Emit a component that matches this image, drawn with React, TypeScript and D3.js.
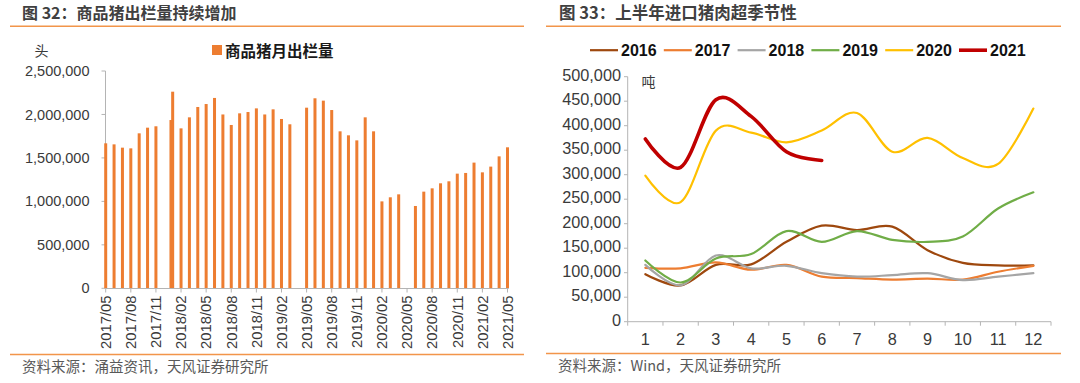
import React from "react";
import * as d3 from "d3";

// ---------- Left chart data ----------
const months: string[] = [
  "2017/05","2017/06","2017/07","2017/08","2017/09","2017/10","2017/11","2017/12",
  "2018/01","2018/02","2018/03","2018/04","2018/05","2018/06","2018/07","2018/08",
  "2018/09","2018/10","2018/11","2018/12","2019/01","2019/02","2019/03","2019/04",
  "2019/05","2019/06","2019/07","2019/08","2019/09","2019/10","2019/11","2019/12",
  "2020/01","2020/02","2020/03","2020/04","2020/05","2020/06","2020/07","2020/08",
  "2020/09","2020/10","2020/11","2020/12","2021/01","2021/02","2021/03","2021/04",
  "2021/05",
];
const hogSales: (number | null)[] = [
  1668000, 1656000, 1618000, 1610000, 1783000, 1848000, 1864000, null,
  2262000, 1840000, 1967000, 2086000, 2120000, 2190000, 2000000, 1879000,
  2013000, 2028000, 2070000, 2000000, 2059000, 1948000, 1887000, null,
  2078000, 2186000, 2159000, 2051000, 1806000, 1760000, 1702000, 1967000,
  1806000, 1000000, 1047000, 1081000, null, 947000, 1112000, 1150000,
  1208000, 1231000, 1319000, 1327000, 1446000, 1334000, 1400000, 1518000,
  1622000,
];
// second (partly hidden) bar drawn at 2018/01
const extraBarMonth = "2018/01";
const extraBarValue = 1936000;
const leftYTicks = [0, 500000, 1000000, 1500000, 2000000, 2500000];
const leftXTicks = [
  "2017/05","2017/08","2017/11","2018/02","2018/05","2018/08","2018/11",
  "2019/02","2019/05","2019/08","2019/11","2020/02","2020/05","2020/08",
  "2020/11","2021/02","2021/05",
];

// ---------- Right chart data ----------
const monthNums = ["1","2","3","4","5","6","7","8","9","10","11","12"];
const s2016 = [97000, 74000, 116000, 117000, 163000, 196000, 187000, 194000, 146000, 120000, 115000, 115000];
const s2017 = [110000, 109000, 121000, 106000, 116000, 92000, 89000, 86000, 88000, 86000, 102000, 114000];
const s2018 = [116000, 74000, 135000, 109000, 114000, 99000, 92000, 95000, 99000, 85000, 92000, 99000];
const s2019 = [125000, 80000, 129000, 138000, 185000, 163000, 185000, 167000, 163000, 174000, 231000, 264000];
const s2020 = [298000, 244000, 390000, 386000, 366000, 390000, 426000, 347000, 375000, 334000, 322000, 435000];
const s2021 = [373000, 315000, 453000, 419000, 347000, 329000];
const seriesNames = ["2016", "2017", "2018", "2019", "2020", "2021"];
const seriesColors = ["#9E480E", "#ED7D31", "#A5A5A5", "#70AD47", "#FFC000", "#C00000"];
const seriesWidths = [2.2, 2.2, 2.2, 2.2, 2.2, 3.6];
const rightYTicks = [0, 50000, 100000, 150000, 200000, 250000, 300000, 350000, 400000, 450000, 500000];

const NUM_FONT = "'Liberation Sans', Arial, sans-serif";
const CJK_FONT = "'Noto Sans CJK SC', 'Noto Sans', sans-serif";
const AXIS = "#B4B4B4";
const TXT = "#3a3a3a";
const ORANGE_LINE = "#F2954A";

export default function App() {
  const fmt = d3.format(",");

  // left scales
  const xL = d3.scalePoint<string>().domain(months).range([105.7, 507.5]);
  const yL = d3.scaleLinear().domain([0, 2500000]).range([288.3, 71]);
  const barW = 3;

  // right scales
  const xR = d3.scaleBand<string>().domain(monthNums).range([627.7, 1051]).paddingInner(0);
  const yR = d3.scaleLinear().domain([0, 500000]).range([321.7, 76.7]);
  const allSeries = [s2016, s2017, s2018, s2019, s2020, s2021];
  const line = d3
    .line<number>()
    .x((_, i) => (xR(monthNums[i]) as number) + xR.bandwidth() / 2)
    .y((d) => yR(d))
    .curve(d3.curveCardinal.tension(0));

  return (
    <svg
      width={1080}
      height={383}
      style={{ position: "absolute", left: 0, top: 0, background: "#fff" }}
    >
      {/* ===== LEFT PANEL ===== */}
      <text x={22} y={19} fontFamily={CJK_FONT} fontWeight={700} fontSize={16} fill="#404040">
        图 32：商品猪出栏量持续增加
      </text>
      <line x1={10} x2={524} y1={26.3} y2={26.3} stroke={ORANGE_LINE} strokeWidth={1.5} />

      <text x={34.5} y={55.5} fontFamily={CJK_FONT} fontSize={14} fill={TXT}>头</text>
      <rect x={212} y={45} width={10} height={10} fill="#ED7D31" />
      <text x={225} y={56.5} fontFamily={CJK_FONT} fontWeight={700} fontSize={15.5} fill="#1a1a1a">
        商品猪月出栏量
      </text>

      {/* y axis */}
      <line x1={105.5} x2={105.5} y1={yL(2500000)} y2={yL(0)} stroke={AXIS} />
      {leftYTicks.map((t) => (
        <g key={t}>
          <line x1={101.5} x2={105.5} y1={yL(t)} y2={yL(t)} stroke={AXIS} />
          <text
            x={89.5}
            y={yL(t)}
            dy="0.35em"
            textAnchor="end"
            fontFamily={NUM_FONT}
            fontSize={14.5}
            fill={TXT}
          >
            {fmt(t)}
          </text>
        </g>
      ))}

      {/* bars */}
      <rect
        x={(xL(extraBarMonth) as number) - barW / 2 - 1.7}
        y={yL(extraBarValue)}
        width={barW}
        height={yL(0) - yL(extraBarValue)}
        fill="#ED7D31"
      />
      {months.map((m, i) => {
        const v = hogSales[i];
        if (v == null) return null;
        return (
          <rect
            key={m}
            x={(xL(m) as number) - barW / 2}
            y={yL(v)}
            width={barW}
            height={yL(0) - yL(v)}
            fill="#ED7D31"
          />
        );
      })}

      {/* x axis */}
      <line x1={105.5} x2={508.5} y1={288.5} y2={288.5} stroke={AXIS} />
      {leftXTicks.map((m) => {
        const x = xL(m) as number;
        return (
          <g key={m}>
            <line x1={x} x2={x} y1={288.5} y2={292.5} stroke={AXIS} />
            <text
              transform={`translate(${x},295.5) rotate(-90)`}
              dy="0.36em"
              textAnchor="end"
              fontFamily={NUM_FONT}
              fontSize={14.8}
              fill={TXT}
            >
              {m}
            </text>
          </g>
        );
      })}

      <line x1={10} x2={524} y1={354.4} y2={354.4} stroke={ORANGE_LINE} strokeWidth={1.5} />
      <text x={22} y={371.5} fontFamily={CJK_FONT} fontSize={14.5} fill="#595959">
        资料来源：涌益资讯，天风证券研究所
      </text>

      {/* ===== RIGHT PANEL ===== */}
      <text x={559} y={19} fontFamily={CJK_FONT} fontWeight={700} fontSize={16.5} fill="#404040">
        图 33：上半年进口猪肉超季节性
      </text>
      <line x1={546} x2={1061} y1={26.3} y2={26.3} stroke={ORANGE_LINE} strokeWidth={1.5} />

      {/* legend */}
      {seriesNames.map((n, i) => {
        const x0 = 590 + i * 73.8;
        return (
          <g key={n}>
            <line
              x1={x0}
              x2={x0 + 28}
              y1={50.2}
              y2={50.2}
              stroke={seriesColors[i]}
              strokeWidth={seriesWidths[i]}
            />
            <text
              x={x0 + 31}
              y={50.2}
              dy="0.36em"
              fontFamily={NUM_FONT}
              fontWeight={700}
              fontSize={16}
              fill="#111"
            >
              {n}
            </text>
          </g>
        );
      })}

      <text x={641.5} y={86.5} fontFamily={CJK_FONT} fontSize={14} fill={TXT}>吨</text>

      {/* y axis */}
      <line x1={627.7} x2={627.7} y1={yR(500000)} y2={yR(0)} stroke={AXIS} />
      {rightYTicks.map((t) => (
        <g key={t}>
          <line x1={624} x2={627.7} y1={yR(t)} y2={yR(t)} stroke={AXIS} />
          <text
            x={621}
            y={yR(t) - 1.5}
            dy="0.35em"
            textAnchor="end"
            fontFamily={NUM_FONT}
            fontSize={16.3}
            fill={TXT}
          >
            {fmt(t)}
          </text>
        </g>
      ))}

      {/* x axis */}
      <line x1={627.7} x2={1051} y1={321.7} y2={321.7} stroke={AXIS} />
      {[...monthNums.map((m) => xR(m) as number), 1051].map((x, i) => (
        <line key={i} x1={x} x2={x} y1={321.7} y2={325.7} stroke={AXIS} />
      ))}
      {monthNums.map((m) => (
        <text
          key={m}
          x={(xR(m) as number) + xR.bandwidth() / 2}
          y={339}
          dy="0.35em"
          textAnchor="middle"
          fontFamily={NUM_FONT}
          fontSize={16.3}
          fill={TXT}
        >
          {m}
        </text>
      ))}

      {/* lines */}
      {allSeries.map((s, i) => (
        <path
          key={seriesNames[i]}
          d={line(s) as string}
          fill="none"
          stroke={seriesColors[i]}
          strokeWidth={seriesWidths[i]}
          strokeLinecap="round"
          strokeLinejoin="round"
        />
      ))}

      <line x1={546} x2={1061} y1={353.6} y2={353.6} stroke={ORANGE_LINE} strokeWidth={1.5} />
      <text x={558} y={371} fontFamily={CJK_FONT} fontSize={14.5} fill="#595959">
        资料来源：Wind，天风证券研究所
      </text>
    </svg>
  );
}
